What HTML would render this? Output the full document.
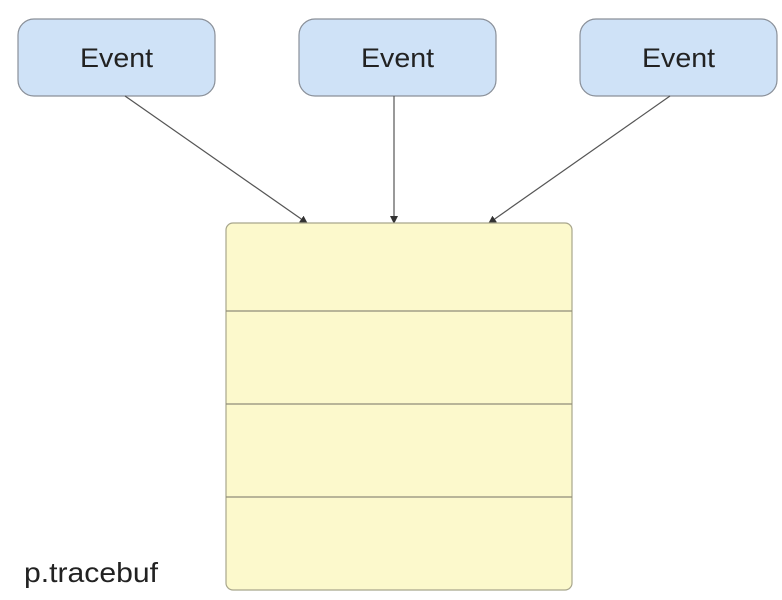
<!DOCTYPE html>
<html><head><style>
body{margin:0;width:782px;height:595px;background:#fff;overflow:hidden}
</style></head><body>
<svg width="782" height="595" xmlns="http://www.w3.org/2000/svg" font-family="Liberation Sans, sans-serif">
<defs><marker id="a" markerWidth="8" markerHeight="8" refX="7" refY="4" orient="auto" markerUnits="userSpaceOnUse"><path d="M0,0 L8,4 L0,8 z" fill="#333"/></marker></defs>
<g fill="#cfe2f7" stroke="#8a9099" stroke-width="1.2">
<rect x="18" y="19" width="197" height="77" rx="16"/>
<rect x="299" y="19" width="197" height="77" rx="16"/>
<rect x="580" y="19" width="197" height="77" rx="16"/>
</g>
<g font-size="27" fill="#222" text-anchor="middle">
<text x="116.5" y="67" textLength="73" lengthAdjust="spacingAndGlyphs">Event</text>
<text x="397.5" y="67" textLength="73" lengthAdjust="spacingAndGlyphs">Event</text>
<text x="678.5" y="67" textLength="73" lengthAdjust="spacingAndGlyphs">Event</text>
</g>
<g stroke="#555" stroke-width="1.2" marker-end="url(#a)">
<line x1="125" y1="96" x2="307" y2="223"/>
<line x1="394" y1="96" x2="394" y2="223"/>
<line x1="670" y1="96" x2="489" y2="223"/>
</g>
<rect x="226" y="223" width="346" height="367" rx="7" fill="#fcf9cc" stroke="#a8a68c" stroke-width="1.2"/>
<g stroke="#8f8d78" stroke-width="1.2">
<line x1="226" y1="311" x2="572" y2="311"/>
<line x1="226" y1="404" x2="572" y2="404"/>
<line x1="226" y1="497" x2="572" y2="497"/>
</g>
<text x="24" y="582" font-size="28" fill="#222" textLength="134" lengthAdjust="spacingAndGlyphs">p.tracebuf</text>
</svg>
</body></html>
